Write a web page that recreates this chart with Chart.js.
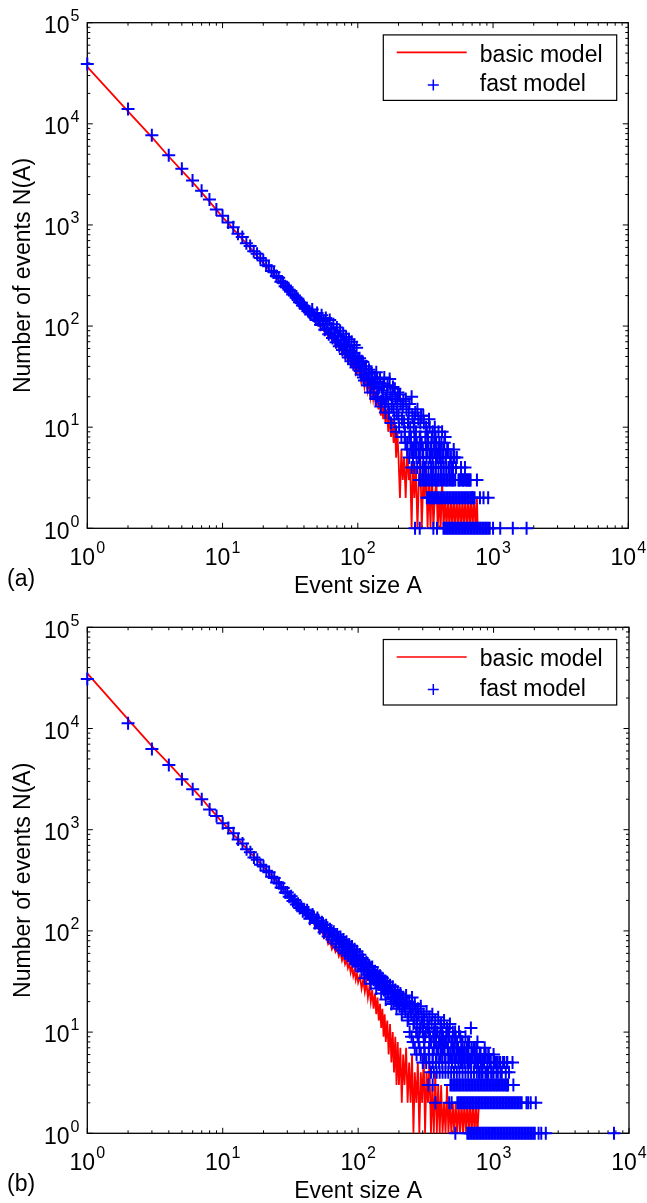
<!DOCTYPE html>
<html><head><meta charset="utf-8">
<script src="https://cdn.jsdelivr.net/npm/chart.js@4.4.1/dist/chart.umd.min.js"></script>
<style>
html,body{margin:0;padding:0;background:#fff;width:647px;height:1203px;overflow:hidden;}
canvas{position:absolute;left:0;}
</style></head><body>
<canvas id="ca" width="647" height="600" style="top:0"></canvas>
<canvas id="cb" width="647" height="603" style="top:600px"></canvas>
<script>
// ---------- tick labels ----------
const xTickExps = [0, 1, 2, 3, 4];
const yTickExps = [0, 1, 2, 3, 4, 5];
const minorMult = [2, 3, 4, 5, 6, 7, 8, 9];
const seriesNames = ['basic model', 'fast model'];

// ---------- panel (a) ----------
const basicA_a = [1,2,3,4,5,6,7,8,9,10,11,12,13,14,15,16,17,18,19,20,21,22,23,24,25,26,27,28,29,30,31,32,33,34,35,36,37,38,39,40,
 42,44,46,48,50,52,54,56,58,60,62,64,66,68,70,72,74,76,78,80,82,84,86,88,90,92,94,96,98,100,
 103,106,109,112,115,118,121,124,127,130,133,136,139,142,145,148,151,154,157,160,164,168,172,176,180,184,188,192,196,
 200,205,210,215,220,226,232,238,244,250,256,262,269,276,283,290,297,305,312,320,328,336,345,353,362,371,381,390,400,410,
 420,431,442,453,464,476,488,500,512,525,538,552,565,580,594,609,624,640,656,672,689,706,724,742,760,770];
const basicN_a = [36500,13300,7400,4750,3450,2650,2100,1700,1420,1190,1050,905,815,718,660,588,545,490,462,418,398,362,349,318,308,281,274,250,247,226,223,205,204,186,186,171,172,157,159,145,
 143,130,129,112,115,100,104,90,94,80,86,74,78,66,72,61,67,55,62,51,58,47,53,43,49,40,46,36,43,34,
 37,28,34,25,31,23,29,20,26,19,24,16,22,15,20,13,18,12,16,11,15,9,13,8,12,7,11,5,9,
 5,2,6,3,5,2,6,3,4,1,5,2,4,1,3,5,1,3,2,4,1,3,1,4,1,2,3,1,2,1,
 3,1,2,1,2,1,2,1,2,1,2,1,2,1,2,1,2,1,2,1,2,1,2,1,2,1];

const fastA_a = [1,2,3,4,5,6,7,8,9,10,11,12,13,14,15,16,17,18,19,20,21,22,23,24,25,26,27,28,29,30,31,32,33,34,35,36,37,38,39,40,
 42,44,46,48,50,52,54,56,58,60,62,64,66,68,70,72,74,76,78,80,82,84,86,88,90,92,94,96,98,100,
 103,106,109,112,115,118,121,124,127,130,133,136,139,142,145,148,151,154,157,160,164,168,172,176,180,184,188,192,196,
 200,205,210,215,220,226,232,238,244,250,256,262,269,276,283,290,297,305,312,320,328,336,345,353,362,371,381,390,400,410,
 420,431,442,453,464,476,488,500,512,525,540,560,580,600,620,640,660,680,700];
const fastN_a = [39000,14000,7700,4900,3600,2750,2180,1780,1420,1230,1060,950,820,760,660,620,550,520,470,445,400,390,350,340,312,300,275,268,248,242,228,222,205,200,190,186,172,170,160,158,
 150,136,146,125,135,118,128,112,120,104,115,95,104,86,97,80,90,73,84,66,78,62,74,57,70,54,65,50,61,46,
 48,33,44,29,40,26,37,22,34,27,31,19,30,24,27,16,25,20,31,14,22,17,30,11,20,15,24,9,18,
 13,21,8,16,11,19,7,14,10,20,6,12,9,15,5,11,7,13,4,10,6,12,5,8,4,10,6,3,7,5,
 9,4,8,3,6,4,5,3,6,3,5,3,4,3,4,3,3,3,2];
const fastA2_a = [41,43,45,47,49,51,53,55,57,59,61,63,65,67,69,71,73,75,77,79,81,83,85,87,89,91,93,95,97,99,
 101,104,107,110,113,116,119,122,125,128,131,134,137,140,143,146,149,152,155,158,162,166,170,174,178,182,186,190,194,198,
 202,207,212,217,223,229,235,241,247,253,259,266,273,280,287,294,301,308,316,324,332,340,349,358,367,376,386,395,405,415,
 425,436,447,458,470,482,494,506,518,532];
const fastN2_a = [148,140,130,127,116,114,103,104,92,94,83,86,76,79,69,72,63,66,58,62,53,58,49,54,45,51,42,48,39,45,
 42,36,45,31,38,33,30,35,26,31,22,28,35,20,25,30,18,23,27,17,19,26,14,21,16,25,12,19,14,22,
 10,17,12,18,9,15,11,17,8,13,10,14,7,12,8,13,6,11,8,9,7,10,6,9,7,8,5,9,6,7,
 5,7,5,6,4,5,4,4,5,4];
// event sizes of the fast model that occurred exactly N times (N = bandLevels)
const bandLevels_a = [1,2,3,4,5,6,7,8];
const bandA_a = [
 [265,287,362,385,430,441,452,464,476,488,500,513,526,540,554,568,583,598,613,629,645,662,679,696,714,733,752,771,791,811,832,854,876,898,921,945,1000,1130,1400,1770],
 [324,332,341,350,359,368,377,387,397,407,418,428,439,451,462,474,486,499,512,525,538,552,566,581,596,611,627,643,660,677,694,712,730,800,850,920],
 [285,292,300,308,316,324,332,341,350,359,368,377,387,397,407,418,428,439,451,462,474,486,499,512,555,570,585,600,615,630,647,665,680,760],
 [250,262,275,290,303,318,333,348,362,378,395,412,430,450,470,492],
 [240,256,272,288,305,322,340,358,378,400,422,446,510],
 [232,248,265,283,302,322,345,368,395,428],
 [225,245,268,292,318,350,380],
 [222,240,262,290,330,372]
];

// ---------- panel (b) ----------
const basicA_b = [1,2,3,4,5,6,7,8,9,10,11,12,13,14,15,16,17,18,19,20,21,22,23,24,25,26,27,28,29,30,31,32,33,34,35,36,37,38,39,40,
 42,44,46,48,50,52,54,56,58,60,62,64,66,68,70,72,74,76,78,80,82,84,86,88,90,92,94,96,98,100,
 103,106,109,112,115,118,121,124,127,130,133,136,139,142,145,148,151,154,157,160,164,168,172,176,180,184,188,192,196,
 200,205,210,215,220,226,232,238,244,250,
 256,262,269,276,283,290,297,305,312,320,328,336,345,353,362,371,381,390,400,410,420,431,442,453,464,476,488,500,512,525,
 538,552,565,580,594,609,624,640,656,672,689,706,724,742,760,780];
const basicN_b = [35000,12300,6700,4500,3250,2550,2030,1640,1380,1170,1030,890,810,710,658,585,549,492,468,420,405,366,356,322,316,286,283,256,256,232,230,210,207,192,190,176,176,162,163,150,
 146,128,130,110,113,96,100,85,90,74,80,66,72,62,67,56,61,51,57,47,52,43,48,39,45,36,41,33,38,31,
 36,27,33,25,31,22,28,20,26,17,24,15,22,13,19,11,17,9,15,8,13,6,12,5,10,4,9,3,8,
 3,7,2,6,3,7,2,5,2,6,
 1,4,2,5,1,4,2,6,1,4,2,5,1,3,1,4,1,3,1,3,1,2,1,3,1,2,1,2,1,2,
 1,2,1,2,1,2,1,2,1,2,1,2,1,2,1,2];

const fastA_b = [1,2,3,4,5,6,7,8,9,10,11,12,13,14,15,16,17,18,19,20,21,22,23,24,25,26,27,28,29,30,31,32,33,34,35,36,37,38,39,40,
 42,44,46,48,50,52,54,56,58,60,62,64,66,68,70,72,74,76,78,80,82,84,86,88,90,92,94,96,98,100,
 103,106,109,112,115,118,121,124,127,130,133,136,139,142,145,148,151,154,157,160,164,168,172,176,180,184,188,192,196,
 200,205,210,215,220,226,232,238,244,250,256,262,269,276,283,290,297,305,312,320,328,336,345,353,362,371,381,390,400,410,
 420,431,442,453,464,476,488,500,512,525,540,555,570,585,600,620,640,660,680,700,720,740,760,780,800,830,860,890,920,950,
 1000,1050,1100,1150,1200,1260,1300];
const fastN_b = [30800,11250,6270,4360,3150,2510,1995,1585,1365,1157,1040,920,800,730,640,600,530,505,450,432,392,380,342,334,300,296,268,265,240,240,218,220,198,202,182,186,168,172,156,162,
 160,132,145,120,134,106,122,97,114,88,104,82,98,75,92,69,87,64,82,60,78,57,73,53,70,50,66,47,63,45,
 58,40,52,34,49,37,45,30,44,33,40,27,38,30,36,24,34,27,32,21,31,25,29,19,28,22,26,17,25,
 20,24,15,22,18,23,13,20,16,22,12,19,14,17,10,18,12,15,9,16,11,14,8,15,10,13,7,14,9,12,
 7,13,8,11,6,12,8,10,6,9,7,10,5,8,6,9,5,8,11,6,7,5,8,4,6,5,7,4,6,5,
 6,4,5,4,5,5,4];
const fastA2_b = [41,43,45,47,49,51,53,55,57,59,61,63,65,67,69,71,73,75,77,79,81,83,85,87,89,91,93,95,97,99,
 101,104,107,110,113,116,119,122,125,128,131,134,137,140,143,146,149,152,155,158,162,166,170,174,178,182,186,190,194,198,
 202,207,212,217,223,229,235,241,247,253,259,266,273,280,287,294,301,308,316,324,332,340,349,358,367,376,386,395,405,415,
 425,436,447,458,470,482,494,506,518,532,547,562,577,592,610,630,650,670,690,710,730,750,770,790,815,845,875,905,935,970,
 1025,1075,1125,1175,1230,1280];
const fastN2_b = [150,152,136,138,124,127,112,116,103,107,94,99,87,92,80,86,74,80,69,75,64,70,60,66,56,62,53,58,50,55,
 50,46,54,42,47,40,44,36,41,35,39,31,36,33,30,35,28,31,26,29,27,24,28,22,25,20,24,21,19,23,
 18,21,17,19,16,20,14,18,15,17,13,16,12,15,11,14,12,13,10,12,11,9,12,9,11,8,10,8,11,7,
 9,8,10,7,9,6,8,7,8,6,7,6,8,5,7,6,7,5,6,7,5,6,5,6,4,5,6,4,5,4,
 5,4,4,5,4,3];
const bandLevels_b = [1,2,3,4,5,6,7,8,9,10];
const bandA_b = [
 [522,640,657,674,691,709,727,746,765,785,805,826,847,869,891,914,938,962,987,1012,1038,1065,1093,1121,1150,1180,1210,1241,1273,1306,1340,1375,1410,1447,1484,1522,1562,1602,1643,1686,1729,1774,1820,1867,1915,1964,2015,2150,2250,2430,7750],
 [372,470,490,540,554,568,583,598,613,629,645,662,679,696,714,733,752,771,791,811,832,854,876,898,921,945,969,994,1020,1046,1073,1101,1129,1158,1188,1219,1250,1282,1315,1349,1384,1420,1456,1494,1532,1572,1612,1750,1800,1880,2050],
 [330,355,480,492,505,518,531,545,559,573,588,603,619,635,651,668,685,703,721,740,759,779,799,820,841,863,885,908,932,956,981,1006,1032,1059,1086,1114,1143,1173,1203,1234,1260,1400],
 [345,362,380,400,420,441,463,486,510,535,560,590,620,650,682,716,752,790,830,870,915,960,1000],
 [300,318,336,355,375,396,418,442,467,493,521,550,581,613,648,684,722,763,806,851,899,950,1003,1060,1120,1260,1380],
 [270,290,310,332,355,380,407,435,466,498,533,570,610,652,698,746,798,855,915],
 [262,284,308,334,362,392,425,460,498,540,585,634,687,744],
 [255,280,307,337,370,406,446,490,538,590,648],
 [248,275,305,338,375,416,462,512,568],
 [240,268,300,335,374,418,466,520]
];

// ---------- helpers ----------
const FONT = '"Liberation Sans", Arial, Helvetica, sans-serif';
const RED = '#ff0000', BLUE = '#0000ff';

function toPoints(xs, ys) { return xs.map((x, i) => ({ x: x, y: ys[i] })); }
function bandPoints(levels, lists) {
  const out = [];
  lists.forEach((list, k) => list.forEach(a => out.push({ x: a, y: levels[k] })));
  return out;
}

function drawPow(ctx, exp, x, y, align) {
  ctx.font = '23px ' + FONT;
  const w1 = ctx.measureText('10').width;
  ctx.font = '16px ' + FONT;
  const w2 = ctx.measureText(String(exp)).width;
  const total = w1 + 1 + w2;
  const x0 = align === 'center' ? x - total / 2 : x;
  ctx.fillStyle = '#000';
  ctx.textAlign = 'left';
  ctx.textBaseline = 'alphabetic';
  ctx.font = '23px ' + FONT;
  ctx.fillText('10', x0, y);
  ctx.font = '16px ' + FONT;
  ctx.fillText(String(exp), x0 + w1 + 1, y - 12);
}

const matlabAxes = {
  id: 'matlabAxes',
  beforeDatasetsDraw(chart, args, opts) {
    const ctx = chart.ctx, a = chart.chartArea, xs = chart.scales.x, ys = chart.scales.y;
    ctx.save();
    ctx.strokeStyle = '#000';
    ctx.lineWidth = 1;
    ctx.beginPath();
    xTickExps.forEach(e => {
      const dec = Math.pow(10, e);
      [1].concat(e < xTickExps[xTickExps.length - 1] ? minorMult : []).forEach(m => {
        const px = xs.getPixelForValue(dec * m);
        const len = m === 1 ? 5.5 : 3;
        ctx.moveTo(px, a.bottom); ctx.lineTo(px, a.bottom - len);
        ctx.moveTo(px, a.top); ctx.lineTo(px, a.top + len);
      });
    });
    yTickExps.forEach(e => {
      const dec = Math.pow(10, e);
      [1].concat(e < yTickExps[yTickExps.length - 1] ? minorMult : []).forEach(m => {
        const py = ys.getPixelForValue(dec * m);
        const len = m === 1 ? 5.5 : 3;
        ctx.moveTo(a.left, py); ctx.lineTo(a.left + len, py);
        ctx.moveTo(a.right, py); ctx.lineTo(a.right - len, py);
      });
    });
    ctx.stroke();
    ctx.lineWidth = 1.3;
    ctx.strokeRect(a.left, a.top, a.right - a.left, a.bottom - a.top);
    ctx.restore();
  },
  afterDraw(chart, args, opts) {
    const ctx = chart.ctx, a = chart.chartArea, xs = chart.scales.x, ys = chart.scales.y;
    ctx.save();
    xTickExps.forEach(e => drawPow(ctx, e, xs.getPixelForValue(Math.pow(10, e)), a.bottom + 36.5, 'center'));
    yTickExps.forEach(e => drawPow(ctx, e, 44, ys.getPixelForValue(Math.pow(10, e)) + 10.3, 'left'));
    ctx.fillStyle = '#000';
    ctx.font = '23px ' + FONT;
    ctx.textAlign = 'center';
    ctx.textBaseline = 'alphabetic';
    ctx.fillText('Event size A', (a.left + a.right) / 2, a.bottom + 64.5);
    ctx.textAlign = 'left';
    ctx.fillText(opts.panel, 7, a.bottom + 58);
    ctx.save();
    ctx.translate(30, (a.top + a.bottom) / 2);
    ctx.rotate(-Math.PI / 2);
    ctx.textAlign = 'center';
    ctx.fillText('Number of events N(A)', 0, 0);
    ctx.restore();
    // legend
    const bx = 383.3, by = a.top + 12.2, bw = 233.4, bh = 65.5;
    ctx.fillStyle = '#fff';
    ctx.fillRect(bx, by, bw, bh);
    ctx.strokeStyle = '#000';
    ctx.lineWidth = 1.2;
    ctx.strokeRect(bx, by, bw, bh);
    ctx.strokeStyle = RED;
    ctx.lineWidth = 1.6;
    ctx.beginPath();
    ctx.moveTo(bx + 13.4, by + 17.5); ctx.lineTo(bx + 83.4, by + 17.5);
    ctx.stroke();
    ctx.strokeStyle = BLUE;
    ctx.lineWidth = 1.5;
    ctx.beginPath();
    ctx.moveTo(bx + 50 - 5.5, by + 50); ctx.lineTo(bx + 50 + 5.5, by + 50);
    ctx.moveTo(bx + 50, by + 50 - 5.5); ctx.lineTo(bx + 50, by + 50 + 5.5);
    ctx.stroke();
    ctx.fillStyle = '#000';
    ctx.font = '23px ' + FONT;
    ctx.textAlign = 'left';
    ctx.fillText(seriesNames[0], bx + 96.5, by + 26.8);
    ctx.fillText(seriesNames[1], bx + 96.5, by + 56);
    ctx.restore();
  }
};

function makeChart(id, panel, basicPts, fastPts, geom) {
  return new Chart(document.getElementById(id), {
    type: 'scatter',
    data: {
      datasets: [
        { label: seriesNames[1], data: fastPts, showLine: false, pointStyle: 'cross',
          pointRadius: 6.5, pointHoverRadius: 6.5, borderColor: BLUE, backgroundColor: BLUE,
          pointBorderWidth: 2, borderWidth: 2, clip: false, order: 1 },
        { label: seriesNames[0], data: basicPts, showLine: true, pointRadius: 0,
          borderColor: RED, backgroundColor: RED, borderWidth: 1.8, tension: 0,
          clip: false, order: 2 }
      ]
    },
    options: {
      responsive: false,
      devicePixelRatio: 1,
      animation: false,
      events: [],
      layout: { padding: { left: 0, top: geom.top, right: geom.right, bottom: 0 } },
      plugins: { legend: { display: false }, tooltip: { enabled: false }, matlabAxes: { panel: panel } },
      scales: {
        x: { type: 'logarithmic', min: 1, max: 10000, bounds: 'data',
             ticks: { display: false }, grid: { display: false }, border: { display: false },
             afterFit: s => { s.height = geom.xh; } },
        y: { type: 'logarithmic', min: 1, max: 100000, bounds: 'data',
             ticks: { display: false }, grid: { display: false }, border: { display: false },
             afterFit: s => { s.width = 87.3; } }
      }
    },
    plugins: [matlabAxes]
  });
}

makeChart('ca', '(a)',
  toPoints(basicA_a, basicN_a),
  toPoints(fastA_a, fastN_a).concat(toPoints(fastA2_a, fastN2_a), bandPoints(bandLevels_a, bandA_a)),
  { top: 22.7, right: 18.7, xh: 71.7 });
makeChart('cb', '(b)',
  toPoints(basicA_b, basicN_b),
  toPoints(fastA_b, fastN_b).concat(toPoints(fastA2_b, fastN2_b), bandPoints(bandLevels_b, bandA_b)),
  { top: 27.3, right: 18, xh: 69.7 });
</script>
</body></html>
